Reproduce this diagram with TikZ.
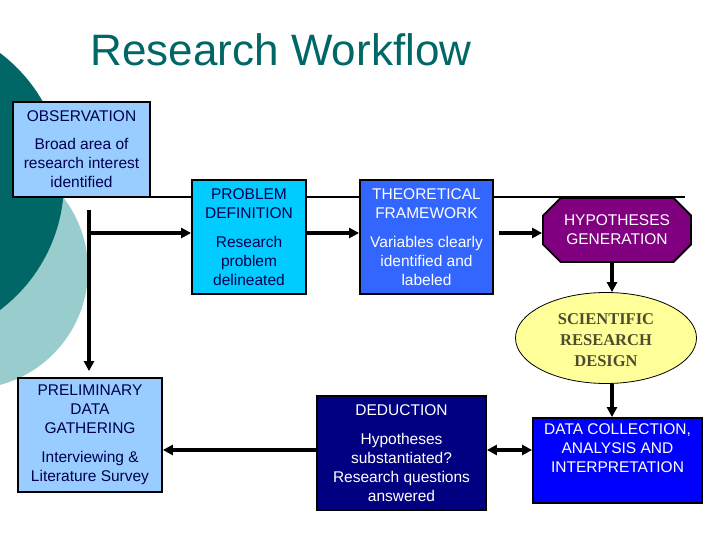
\documentclass[tikz,border=0pt]{standalone}
\usepackage{fontspec}
\setmainfont{Liberation Sans}
\newfontfamily\serifnames{Liberation Serif}
\usetikzlibrary{arrows.meta, shapes.geometric, shapes.misc}

\definecolor{darkteal}{HTML}{006666}
\definecolor{paleteal}{HTML}{99CCCC}
\definecolor{lightblue}{HTML}{99CCFF}
\definecolor{skyblue}{HTML}{00CCFF}
\definecolor{royalblue}{HTML}{3366FF}
\definecolor{hyppurple}{HTML}{800080}
\definecolor{paleyellow}{HTML}{FFFF99}
\definecolor{purblue}{HTML}{0000FF}
\definecolor{deepnavy}{HTML}{000080}
\definecolor{navytext}{HTML}{000050}
\definecolor{olivetext}{HTML}{4D4D2E}

\tikzset{
    stagebox/.style={draw=black, line width=1.8pt, rectangle, inner sep=2pt, align=center,
        font=\fontsize{15.5}{19}\selectfont},
    flow/.style={line width=3.5pt, -{Triangle[length=10pt,width=10pt]}},
    twoway/.style={line width=3.5pt, {Triangle[length=10pt,width=10pt]}-{Triangle[length=10pt,width=10pt]}},
}

\begin{document}
\begin{tikzpicture}[x=1pt, y=-1pt]
        \useasboundingbox (0,0) rectangle (720,540);

        % circles in the background
        \begin{scope}
            \clip (0,0) rectangle (720,540);
            \fill[paleteal] (-31,270) circle (119);
            \fill[darkteal] (-97,181.5) circle (161);
        \end{scope}

        \node[font=\fontsize{44}{50}\selectfont, text=darkteal] (title) at (281,50) {Research Workflow};

        % thin rule behind the top row
        \coordinate (rulestart) at (150,197);
        \coordinate (ruleend) at (685,197);
        \draw[black, line width=1.2pt] (rulestart)--(ruleend);

        % top row
        \node[stagebox, fill=lightblue, text=navytext, minimum width=137pt, minimum height=95pt] (obs) at (81.5,149.5)
            {OBSERVATION\\[9pt]Broad area of\\research interest\\identified};
        \node[stagebox, fill=skyblue, text=navytext, minimum width=114pt, minimum height=114pt] (probdef) at (249,237)
            {PROBLEM\\DEFINITION\\[10pt]Research\\problem\\delineated};
        \node[stagebox, fill=royalblue, text=white, minimum width=133pt, minimum height=114pt] (theo) at (426.5,237)
            {THEORETICAL\\FRAMEWORK\\[10pt]Variables clearly\\identified and\\labeled};
        \node[stagebox, chamfered rectangle, chamfered rectangle xsep=14pt, fill=hyppurple, text=white,
            minimum width=148pt, minimum height=64pt] (hyp) at (617,230)
            {HYPOTHESES\\GENERATION};

        % right column
        \node[ellipse, draw=black, line width=0.8pt, fill=paleyellow, text=olivetext, inner sep=0pt, align=center,
            minimum width=181pt, minimum height=91pt, font=\serifnames\bfseries\fontsize{16.5}{21}\selectfont] (sci) at (606,338)
            {\strut SCIENTIFIC\\RESEARCH\\DESIGN};
        \node[stagebox, fill=purblue, text=white, minimum width=169pt, minimum height=85pt] (data) at (617.5,460.5)
            {DATA COLLECTION,\\ANALYSIS AND\\INTERPRETATION\\\strut};

        % bottom row
        \node[stagebox, fill=deepnavy, text=white, minimum width=169pt, minimum height=114pt] (ded) at (401.5,453)
            {DEDUCTION\\[10pt]Hypotheses\\substantiated?\\Research questions\\answered};
        \node[stagebox, fill=lightblue, text=navytext, minimum width=144pt, minimum height=114pt] (prelim) at (90,435)
            {PRELIMINARY\\DATA\\GATHERING\\[10pt]Interviewing \&\\Literature Survey};

        % helper coordinates for the arrows
        \coordinate (stem) at (89,210);
        \coordinate (branch) at (89,233);
        \coordinate (col) at (612,0);
        \coordinate (low) at (0,450);

        \draw[flow, shorten >=6pt] (stem)--(stem |- prelim.north);
        \draw[flow] (branch)--(probdef.west |- branch);
        \draw[flow] (probdef.east |- branch)--(theo.west |- branch);
        \draw[flow, shorten <=5pt] (theo.east |- branch)--(hyp.west |- branch);
        \draw[flow] (hyp.south -| col)--(sci.north -| col);
        \draw[flow] (sci.south -| col)--(data.north -| col);
        \draw[twoway] (ded.east |- low)--(data.west |- low);
        \draw[flow] (ded.west |- low)--(prelim.east |- low);
    \end{tikzpicture}
\end{document}
